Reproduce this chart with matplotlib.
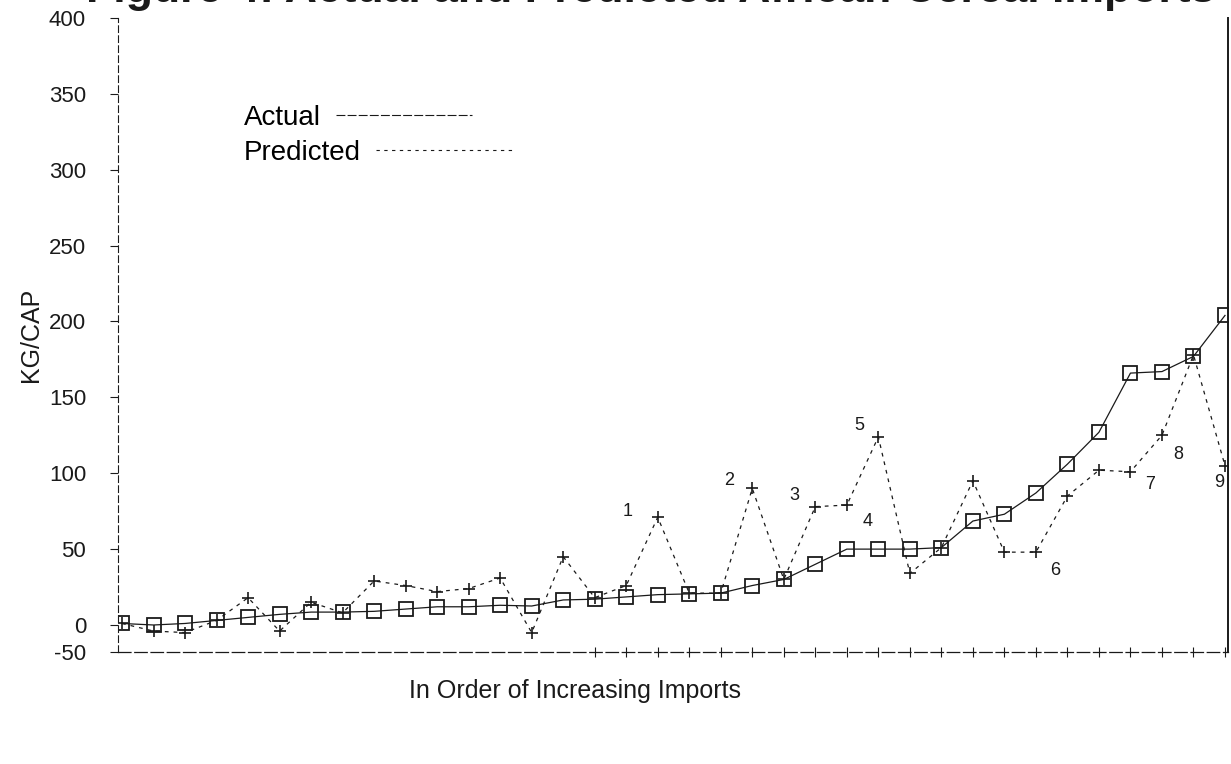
import matplotlib
matplotlib.use("Agg")
from matplotlib import pyplot as plt
from matplotlib.lines import Line2D
import numpy as np

# countries ranked by imports (1..36)
rank = np.arange(1, 37)

# KG/CAP
actual = [1, 0, 1, 3, 5, 7, 8.5, 8.5, 9, 10.5, 12, 12, 13, 12.5, 16.5, 17,
          18.5, 20, 20.5, 21, 26, 30, 40, 50, 50, 50, 51, 68.5, 73, 87,
          106, 127, 166, 167, 177, 204]
predicted = [1, -4, -5, 3, 18, -4, 15, 8, 29, 26, 22, 24, 31, -5, 45, 18,
             26, 71, 21, 21, 90, 30, 78, 79, 124, 34, 51, 95, 48, 48,
             85, 102, 101, 125, 178, 105]

# numbered callouts: label, rank index, series
ann_labels = ["1", "2", "3", "4", "5", "6", "7", "8", "9"]
ann_rank = [18, 21, 23, 25, 25, 30, 33, 34, 36]
ann_series = ["p", "p", "p", "a", "p", "p", "p", "p", "p"]
ann_offset = [(-22, 4), (-17, 6), (-15, 8), (-8, 20), (-14, 8),
              (14, -13), (14, -9), (12, -14), (-4, -12)]

ytick_vals = [0, 50, 100, 150, 200, 250, 300, 350, 400]
y_bottom = -17.8
x_ticks = rank[15:]

plt.rcParams["font.family"] = ["Liberation Sans", "DejaVu Sans"]

fig = plt.figure(figsize=(12.31, 7.64), dpi=100)
ax = fig.add_axes([118 / 1231, 1 - 652 / 764, 1110 / 1231, 634 / 764])

ink = "#1a1a1a"
ax.plot(rank, actual, color=ink, lw=0.9, ls="-", marker="s", ms=10,
        mfc="none", mec=ink, mew=1.3)
ax.plot(rank, predicted, color=ink, lw=0.9, ls=(0, (3, 4)), marker="+",
        ms=9, mew=1.2)

for lab, r, s, off in zip(ann_labels, ann_rank, ann_series, ann_offset):
    yv = actual[r - 1] if s == "a" else predicted[r - 1]
    ax.annotate(lab, (r, yv), xytext=off, textcoords="offset points",
                ha="center", va="center", fontsize=13, color=ink)

ax.set_xlim(1 - 4 / 31.5, 36 + 3 / 31.5)
ax.set_ylim(y_bottom, 400)
ax.set_yticks([y_bottom] + ytick_vals)
ax.set_yticklabels(["-50"] + [str(v) for v in ytick_vals])
ax.set_xticks(x_ticks)
ax.set_xticklabels([])
ax.tick_params(axis="y", direction="out", length=6, width=0.8, pad=17,
               labelsize=16, colors=ink)
ax.tick_params(axis="x", direction="inout", length=7, width=0.8, colors=ink)

ax.spines["top"].set_visible(False)
ax.spines["left"].set_linestyle((0, (6, 3)))
ax.spines["left"].set_linewidth(0.8)
ax.spines["bottom"].set_linestyle((0, (10, 3)))
ax.spines["bottom"].set_linewidth(0.9)
ax.spines["right"].set_linewidth(1.4)
for sp in ax.spines.values():
    sp.set_color(ink)

ax.set_ylabel("KG/CAP", fontsize=18, color=ink, labelpad=4)
ax.set_xlabel("In Order of Increasing Imports", fontsize=18, color=ink)
ax.xaxis.set_label_coords(0.412, -0.043)

# two one-entry legends so the text stays left aligned, line after it
leg_style = dict(frameon=False, markerfirst=False, fontsize=20,
                 handlelength=4.9, handletextpad=0.55, loc="center left")
h_act = Line2D([], [], color=ink, lw=0.8, ls=(0, (8, 2)))
h_pre = Line2D([], [], color=ink, lw=0.8, ls=(0, (3, 4)))
leg1 = ax.legend([h_act], ["Actual"], bbox_to_anchor=(0.091, 0.842), **leg_style)
ax.add_artist(leg1)
ax.legend([h_pre], ["Predicted"], bbox_to_anchor=(0.091, 0.787), **leg_style)

# title, mostly cut off at the top edge of the scan
fig.text(1215 / 1231, 1 - 2 / 764,
         "Figure 4: Actual and Predicted African Cereal Imports",
         ha="right", va="baseline", fontsize=32, fontweight="bold", color=ink)

fig.savefig("out.png", dpi=100)
